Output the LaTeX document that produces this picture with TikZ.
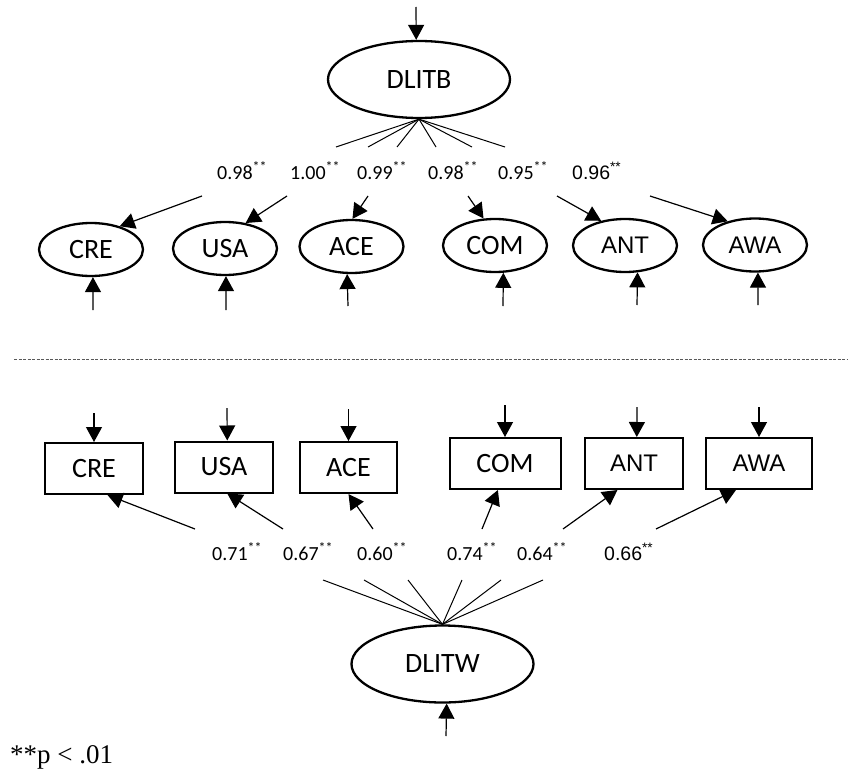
\documentclass[tikz,border=0pt]{standalone}
\usepackage{fontspec}
\setmainfont{Carlito}
\newfontfamily\arialfont{Liberation Sans}
\newfontfamily\timesfont{Liberation Serif}
\usetikzlibrary{shapes.geometric,arrows.meta}

\begin{document}
\begin{tikzpicture}[x=1pt,y=-1pt,
    latent/.style={draw,ellipse,line width=2.3pt,inner sep=0pt,minimum width=104pt,minimum height=53pt,font=\fontsize{28}{30}\selectfont},
    factor/.style={latent,minimum width=182pt,minimum height=77pt},
    observed/.style={draw,rectangle,line width=2pt,inner sep=0pt,minimum width=98pt,minimum height=51pt,font=\fontsize{28}{30}\selectfont},
    arialtext/.style={font=\arialfont\fontsize{24}{26}\selectfont},
    load/.style={anchor=base west,inner sep=0pt,font=\fontsize{20}{22}\selectfont},
    arr/.style={-{Triangle[length=15pt 0,width=16pt 0]},line width=1.2pt},
    fan/.style={line width=1pt}]
  \useasboundingbox (0,0) rectangle (848,768);

  % first wave
  \node[factor] (dlitb) at (419,79.5) {DLITB};
  \coordinate (eb) at (416,7);
  \draw[arr] (eb) -- (dlitb.94);

  \node[latent] (cre) at (91,249.5)  {CRE};
  \node[latent] (usa) at (225,248.5) {USA};
  \node[latent] (ace) at (351.5,246.5) {ACE};
  \node[latent] (com) at (495,245.5) {COM};
  \node[latent,arialtext] (ant) at (625,245.5) {ANT};
  \node[latent,arialtext] (awa) at (755,245)   {AWA};

  \foreach \n/\x in {1/336,2/368,3/397,4/436,5/472,6/505} {
    \coordinate (tb\n) at (\x,147);
    \draw[fan] (dlitb.south) -- (tb\n);
  }
  \foreach \n/\x/\t in {1/202/cre.39,2/287/usa.51,3/368/ace.88,4/468/com.113,5/557/ant.134,6/650/awa.139} {
    \coordinate (ta\n) at (\x,196);
    \draw[arr] (ta\n) -- (\t);
  }
  \foreach \n/\x/\y/\t in {1/93/310/cre.-86,2/226/310/usa.-88,3/348/306/ace.-99,4/503/306/com.-73,5/637/305/ant.-65,6/758/305/awa.-84} {
    \coordinate (te\n) at (\x,\y);
    \draw[arr] (te\n) -- (\t);
  }

  \node[load] (lb1) at (217,179) {0.98\textsuperscript{**}};
  \node[load] (lb2) at (290,179) {1.00\textsuperscript{**}};
  \node[load] (lb3) at (357,179) {0.99\textsuperscript{**}};
  \node[load] (lb4) at (428,179) {0.98\textsuperscript{**}};
  \node[load] (lb5) at (498,179) {0.95\textsuperscript{**}};
  \node[load,font=\arialfont\fontsize{19.5}{22}\selectfont] (lb6) at (572,179) {0.96\textsuperscript{**}};

  \draw[dash pattern=on 3pt off 1.5pt,line width=1pt,black!65] (14,359) -- (848,359);

  % second wave
  \node[observed] (cre2) at (94,468.5) {CRE};
  \node[observed] (usa2) at (224,467)  {USA};
  \node[observed,minimum width=97pt] (ace2) at (348.5,467.5) {ACE};
  \node[observed,minimum width=111pt] (com2) at (505,463.5) {COM};
  \node[observed,arialtext] (ant2) at (634,463.5) {ANT};
  \node[observed,arialtext,minimum width=106pt] (awa2) at (759,463.5) {AWA};

  \foreach \n/\x/\y/\t in {1/94/413/cre2.north,2/227/408/usa2.83,3/348.5/409/ace2.north,4/505/405/com2.north,5/637/407/ant2.84,6/759/407/awa2.north} {
    \coordinate (we\n) at (\x,\y);
    \draw[arr] (we\n) -- (\t);
  }

  \node[factor] (dlitw) at (442.5,664) {DLITW};
  \coordinate (ew) at (446,736);
  \draw[arr] (ew) -- (dlitw.-84);

  \foreach \n/\x in {1/323,2/364,3/408,4/462,5/501,6/543} {
    \coordinate (wb\n) at (\x,580);
    \draw[fan] (dlitw.north) -- (wb\n);
  }
  \foreach \n/\x/\t in {1/195/cre2.-63,2/283/usa2.-83,3/373/ace2.south,4/482/com2.-105,5/563/ant2.-122,6/656/awa2.-131} {
    \coordinate (wa\n) at (\x,529);
    \draw[arr] (wa\n) -- (\t);
  }

  \node[load] (lw1) at (212,560) {0.71\textsuperscript{**}};
  \node[load] (lw2) at (283,560) {0.67\textsuperscript{**}};
  \node[load] (lw3) at (357,560) {0.60\textsuperscript{**}};
  \node[load] (lw4) at (447,560) {0.74\textsuperscript{**}};
  \node[load] (lw5) at (517,560) {0.64\textsuperscript{**}};
  \node[load,font=\arialfont\fontsize{19.5}{22}\selectfont] (lw6) at (604,560) {0.66\textsuperscript{**}};

  \node[anchor=base west,inner sep=0pt,font=\timesfont\fontsize{27}{29}\selectfont] (note) at (10,763) {**p < .01};
\end{tikzpicture}
\end{document}
